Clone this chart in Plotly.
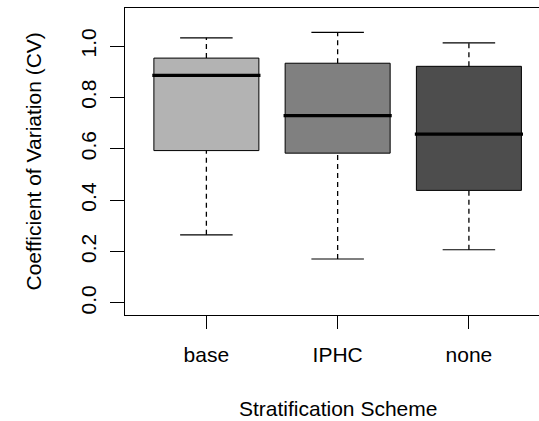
import plotly.graph_objects as go

# ---- data ----
categories = ["base", "IPHC", "none"]
lower_whisker = [0.265, 0.171, 0.207]
q1 = [0.593, 0.583, 0.438]
median = [0.886, 0.729, 0.657]
q3 = [0.953, 0.933, 0.921]
upper_whisker = [1.032, 1.053, 1.012]
fill_colors = ["#b3b3b3", "#808080", "#4d4d4d"]
y_tick_vals = [0.0, 0.2, 0.4, 0.6, 0.8, 1.0]
y_tick_text = ["0.0", "0.2", "0.4", "0.6", "0.8", "1.0"]

positions = list(range(1, len(categories) + 1))
box_width = 0.8
cap_half = 0.2
FONT = "Liberation Sans, Arial, sans-serif"
FS = 21

fig = go.Figure()

# boxes (q1 -> q3)
fig.add_trace(go.Bar(
    x=positions,
    y=[b - a for a, b in zip(q1, q3)],
    base=q1,
    width=box_width,
    marker=dict(color=fill_colors, line=dict(color="black", width=1)),
    hoverinfo="skip",
    showlegend=False,
))

# dashed whiskers
wx, wy = [], []
for p, lo, a, b, hi in zip(positions, lower_whisker, q1, q3, upper_whisker):
    wx += [p, p, None, p, p, None]
    wy += [lo, a, None, b, hi, None]
fig.add_trace(go.Scatter(x=wx, y=wy, mode="lines",
                         line=dict(color="black", width=1.3, dash="5px,4px"),
                         hoverinfo="skip", showlegend=False))

# whisker caps
cx, cy = [], []
for p, lo, hi in zip(positions, lower_whisker, upper_whisker):
    cx += [p - cap_half, p + cap_half, None, p - cap_half, p + cap_half, None]
    cy += [lo, lo, None, hi, hi, None]
fig.add_trace(go.Scatter(x=cx, y=cy, mode="lines",
                         line=dict(color="black", width=1.2),
                         hoverinfo="skip", showlegend=False))

# medians
mx, my = [], []
ext = box_width / 2 + 0.012
for p, m in zip(positions, median):
    mx += [p - ext, p + ext, None]
    my += [m, m, None]
fig.add_trace(go.Scatter(x=mx, y=my, mode="lines",
                         line=dict(color="black", width=3.2),
                         hoverinfo="skip", showlegend=False))

fig.update_layout(
    width=539, height=421,
    margin=dict(l=125, r=0, t=8, b=106),
    paper_bgcolor="white", plot_bgcolor="white",
    font=dict(family=FONT, size=FS, color="black"),
    showlegend=False,
    xaxis=dict(
        range=[0.38, 3.534],
        tickmode="array", tickvals=positions, ticktext=categories,
        ticks="outside", ticklen=13, tickwidth=1, tickcolor="black",
        showline=True, linecolor="black", linewidth=1, mirror=True,
        showgrid=False, zeroline=False,
        ticklabelstandoff=8,
        tickfont=dict(family=FONT, size=FS, color="black"),
    ),
    yaxis=dict(
        range=[-0.047, 1.148],
        tickmode="array", tickvals=y_tick_vals, ticktext=y_tick_text,
        tickangle=-90,
        ticks="outside", ticklen=14, tickwidth=1, tickcolor="black",
        showline=True, linecolor="black", linewidth=1, mirror=False,
        showgrid=False, zeroline=False,
        ticklabelstandoff=6,
        tickfont=dict(family=FONT, size=FS, color="black"),
    ),
    annotations=[
        dict(text="Stratification Scheme", xref="x", x=2, yref="paper", y=0,
             xanchor="center", yanchor="middle", yshift=-93, showarrow=False,
             font=dict(family=FONT, size=FS, color="black")),
        dict(text="Coefficient of Variation (CV)", xref="paper", x=0, yref="paper", y=0.5,
             xanchor="center", yanchor="middle", xshift=-92, textangle=-90, showarrow=False,
             font=dict(family=FONT, size=FS, color="black")),
    ],
)

fig.write_html("out.html",
               config={"displayModeBar": False},
               post_script="document.body.style.margin='0';document.body.style.overflow='hidden';")
